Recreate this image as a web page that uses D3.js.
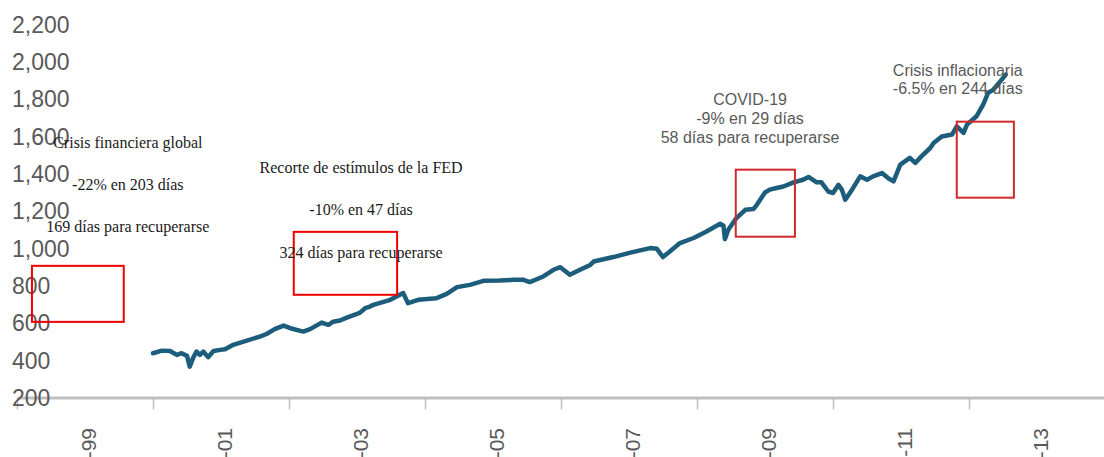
<!DOCTYPE html>
<html>
<head>
<meta charset="utf-8">
<script src="https://cdn.jsdelivr.net/npm/d3@7"></script>
<style>
  body { margin: 0; background: #fff; }
  svg { display: block; }
</style>
</head>
<body>
<div id="chart"></div>
<script>
// eje Y
const yTicks = [200, 400, 600, 800, 1000, 1200, 1400, 1600, 1800, 2000, 2200];
// eje X: marcas y etiquetas (entre marcas)
const xTickYears = [1999, 2001, 2003, 2005, 2007, 2009, 2011, 2013, 2015];
const xLabelYears = [2000, 2002, 2004, 2006, 2008, 2010, 2012, 2014];
const xLabels = ['-99', '-01', '-03', '-05', '-07', '-09', '-11', '-13'];

// serie (año decimal, valor del índice)
const years = [
  2001.00, 2001.13, 2001.25, 2001.35, 2001.42, 2001.50, 2001.54, 2001.59, 2001.64, 2001.69,
  2001.74, 2001.81, 2001.89, 2001.99, 2002.06, 2002.18, 2002.38, 2002.57, 2002.67, 2002.79,
  2002.92, 2003.02, 2003.21, 2003.31, 2003.48, 2003.58, 2003.65, 2003.75, 2003.85, 2004.04,
  2004.12, 2004.19, 2004.24, 2004.49, 2004.68, 2004.75, 2004.90, 2005.17, 2005.32, 2005.47,
  2005.66, 2005.86, 2006.10, 2006.30, 2006.45, 2006.54, 2006.74, 2006.89, 2006.99, 2007.13,
  2007.28, 2007.43, 2007.48, 2007.77, 2008.02, 2008.31, 2008.41, 2008.50, 2008.60, 2008.75,
  2008.95, 2009.14, 2009.34, 2009.39, 2009.41, 2009.46, 2009.58, 2009.71, 2009.83, 2009.88,
  2010.00, 2010.07, 2010.17, 2010.27, 2010.42, 2010.56, 2010.64, 2010.76, 2010.83, 2010.93,
  2011.00, 2011.08, 2011.13, 2011.18, 2011.28, 2011.40, 2011.50, 2011.59, 2011.72, 2011.81,
  2011.89, 2011.99, 2012.13, 2012.21, 2012.30, 2012.43, 2012.48, 2012.60, 2012.75, 2012.82,
  2012.92, 2012.97, 2013.11, 2013.21, 2013.28, 2013.36, 2013.46, 2013.54
];
const values = [
  437, 451, 449, 428, 437, 423, 365, 412, 446, 428,
  446, 416, 449, 455, 458, 482, 505, 526, 540, 566,
  585, 571, 553, 566, 601, 589, 606, 612, 628, 653,
  678, 687, 696, 723, 759, 705, 723, 732, 755, 791,
  803, 825, 826, 830, 830, 818, 848, 884, 898, 857,
  884, 910, 928, 952, 976, 1000, 996, 952, 982, 1027,
  1054, 1089, 1130, 1120, 1048, 1098, 1161, 1205, 1209, 1232,
  1298, 1313, 1322, 1330, 1352, 1366, 1381, 1352, 1352, 1303,
  1295, 1339, 1313, 1259, 1313, 1384, 1366, 1384, 1402, 1375,
  1357, 1447, 1483, 1456, 1491, 1536, 1563, 1598, 1608, 1652,
  1617, 1661, 1706, 1769, 1831, 1849, 1893, 1929
];

// recuadros rojos [año inicio, año fin, valor bajo, valor alto]
const boxes = [
  [1999.22, 2000.57, 605, 905],
  [2003.07, 2004.59, 750, 1087],
  [2009.57, 2010.44, 1061, 1420],
  [2012.82, 2013.66, 1270, 1677]
];

// textos de las crisis
const notesSerif = [
  { x: 2000.63, lines: [['Crisis financiera global', 1565], ['-22% en 203 días', 1339], ['169 días para recuperarse', 1114]] },
  { x: 2004.06, lines: [['Recorte de estímulos de la FED', 1431], ['-10% en 47 días', 1205], ['324 días para recuperarse', 975]] }
];
const notesSans = [
  { x: 2009.78, anchor: 'middle', lines: [['COVID-19', 1795], ['-9% en 29 días', 1693], ['58 días para recuperarse', 1591]] },
  { x: 2011.88, anchor: 'start', lines: [['Crisis inflacionaria', 1951], ['-6.5% en 244 días', 1854]] }
];

const width = 1104;
const height = 457;

const svg = d3.select('#chart')
  .append('svg')
  .attr('width', width)
  .attr('height', height)
  .attr('viewBox', `0 0 ${width} ${height}`);

const x = d3.scaleLinear().domain([1999, 2015]).range([17, 1105]);
const y = d3.scaleLinear().domain([200, 2200]).range([397.5, 24]);

const gray = '#595959';

// eje X
const xAxis = svg.append('g')
  .attr('transform', `translate(0, ${y(200)})`)
  .call(d3.axisBottom(x).tickValues(xTickYears).tickSize(12).tickSizeOuter(0).tickFormat(''));
xAxis.select('.domain').attr('stroke', '#bfbfbf').attr('stroke-width', 3);
xAxis.selectAll('.tick line').attr('stroke', '#bfbfbf').attr('stroke-width', 1.5);

svg.append('g')
  .selectAll('text')
  .data(xLabelYears)
  .join('text')
  .attr('transform', (d) => `translate(${x(d) + 3}, 428) rotate(-90)`)
  .attr('text-anchor', 'end')
  .attr('dominant-baseline', 'central')
  .attr('font-family', 'Liberation Sans, Arial, sans-serif')
  .attr('font-size', 21)
  .attr('fill', gray)
  .text((d, i) => xLabels[i]);

// eje Y (etiquetas alineadas a la izquierda)
const yAxis = svg.append('g')
  .call(d3.axisLeft(y).tickValues(yTicks).tickFormat(d3.format(',')).tickSize(0));
yAxis.select('.domain').remove();
yAxis.selectAll('text')
  .attr('x', 12)
  .attr('dy', '0.35em')
  .attr('text-anchor', 'start')
  .attr('font-family', 'Liberation Sans, Arial, sans-serif')
  .attr('font-size', 23)
  .attr('fill', gray);

// línea del índice
const series = years.map((d, i) => ({ year: d, value: values[i] }));
svg.append('path')
  .datum(series)
  .attr('fill', 'none')
  .attr('stroke', '#1c5d7c')
  .attr('stroke-width', 4.5)
  .attr('stroke-linejoin', 'round')
  .attr('stroke-linecap', 'round')
  .attr('d', d3.line().x((d) => x(d.year)).y((d) => y(d.value)));

// recuadros
svg.append('g')
  .selectAll('rect')
  .data(boxes)
  .join('rect')
  .attr('x', (d) => x(d[0]))
  .attr('y', (d) => y(d[3]))
  .attr('width', (d) => x(d[1]) - x(d[0]))
  .attr('height', (d) => y(d[2]) - y(d[3]))
  .attr('fill', 'none')
  .attr('stroke', (d, i) => (i < 2 ? '#f00000' : '#d0292b'))
  .attr('stroke-width', 2);

// anotaciones
notesSerif.forEach((n) => {
  svg.append('g')
    .selectAll('text')
    .data(n.lines)
    .join('text')
    .attr('x', x(n.x))
    .attr('y', (d) => y(d[1]))
    .attr('dy', '0.35em')
    .attr('text-anchor', 'middle')
    .attr('font-family', 'Liberation Serif, Times New Roman, serif')
    .attr('font-size', 16)
    .attr('fill', '#1a1a1a')
    .text((d) => d[0]);
});

notesSans.forEach((n) => {
  svg.append('g')
    .selectAll('text')
    .data(n.lines)
    .join('text')
    .attr('x', x(n.x))
    .attr('y', (d) => y(d[1]))
    .attr('dy', '0.35em')
    .attr('text-anchor', n.anchor)
    .attr('font-family', 'Liberation Sans, Arial, sans-serif')
    .attr('font-size', 16)
    .attr('fill', gray)
    .text((d) => d[0]);
});
</script>
</body>
</html>
